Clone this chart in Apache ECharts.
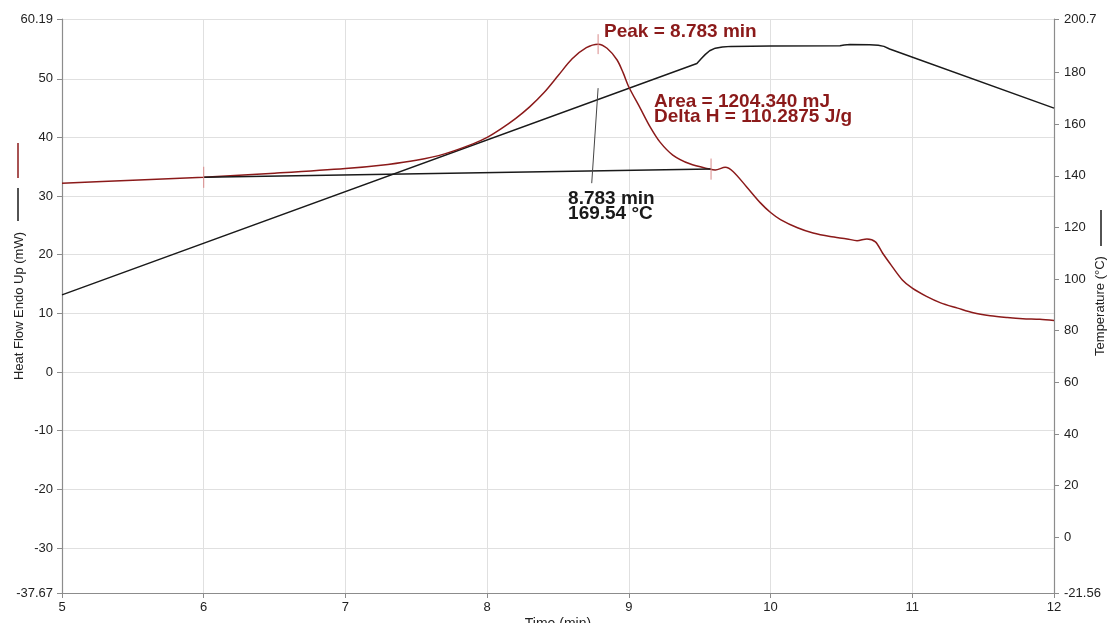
<!DOCTYPE html>
<html>
<head>
<meta charset="utf-8">
<script src="https://cdn.jsdelivr.net/npm/echarts@6/dist/echarts.min.js"></script>
<style>
  html, body { margin: 0; padding: 0; background: #fff; }
  #chart { width: 1113px; height: 623px; }
</style>
</head>
<body>
<div id="chart"></div>
<script>
// DSC run: heat flow (mW, endo up) and sample temperature (°C) against time (min)
const heatFlow = [
  [5.0, 32.2], [5.5, 32.7], [6.0, 33.2], [6.5, 33.9], [7.0, 34.7], [7.3, 35.4],
  [7.5, 36.1], [7.7, 37.2], [7.9, 38.9], [8.0, 40.0], [8.1, 41.5], [8.2, 43.2],
  [8.3, 45.2], [8.4, 47.6], [8.5, 50.5], [8.6, 53.4], [8.7, 55.3], [8.783, 55.9],
  [8.846, 55.2], [8.917, 53.2], [8.96, 51.0], [9.0, 48.6], [9.08, 45.0], [9.15, 41.8],
  [9.22, 39.2], [9.31, 37.0], [9.43, 35.5], [9.57, 34.6], [9.61, 34.45], [9.68, 34.9],
  [9.735, 34.2], [9.83, 31.6], [9.93, 28.8], [10.0, 27.2], [10.07, 26.0], [10.19, 24.6],
  [10.30, 23.7], [10.42, 23.1], [10.54, 22.7], [10.61, 22.4], [10.68, 22.7], [10.74, 22.2],
  [10.79, 20.3], [10.84, 18.6], [10.93, 15.7], [11.0, 14.3], [11.10, 12.9], [11.20, 11.8],
  [11.32, 10.9], [11.43, 10.1], [11.55, 9.6], [11.67, 9.3], [11.78, 9.1], [11.90, 9.0],
  [12.0, 8.8]
];

const temperature = [
  [5.0, 93.88], [9.48, 183.48], [9.51, 185.3], [9.54, 187.0], [9.57, 188.4], [9.61, 189.4],
  [9.66, 189.9], [9.72, 190.1], [10.0, 190.2], [10.49, 190.3], [10.52, 190.6], [10.56, 190.8],
  [10.7, 190.7], [10.76, 190.5], [10.8, 190.1], [10.84, 189.1], [12.0, 166.2]
];

// integration limits of the peak
const baseline = [[6.0, 33.2], [9.58, 34.6]];

const peakTime = 8.783;      // min
const peakHeat = 55.9;       // mW
const peakTemp = 169.54;     // °C
const areaMJ = '1204.340';
const deltaH = '110.2875';

const heatTicks = [-37.67, -30, -20, -10, 0, 10, 20, 30, 40, 50, 60.19];
const tempTicks = [-21.56, 0, 20, 40, 60, 80, 100, 120, 140, 160, 180, 200.7];

const RED = '#8b1a1a';
const INK = '#1a1a1a';
const TICK_RED = '#d98a8a';
const FONT = '"Liberation Sans", Arial, Helvetica, sans-serif';

const chart = echarts.init(document.getElementById('chart'));

function segment(points, color, width, z) {
  return {
    type: 'line', yAxisIndex: 0, data: points, showSymbol: false, silent: true,
    lineStyle: { color: color, width: width }, z: z
  };
}

function textMark(point, text, color) {
  return {
    type: 'scatter', yAxisIndex: 0, symbolSize: 0, silent: true, z: 10,
    itemStyle: { opacity: 1 },
    data: [point],
    label: {
      show: true, position: [0, 0], align: 'left', verticalAlign: 'middle',
      formatter: text, color: color, opacity: 1, fontFamily: FONT, fontWeight: 'bold',
      fontSize: 19, lineHeight: 15
    }
  };
}

const axisLabelStyle = { color: '#222', fontSize: 13, fontFamily: FONT };

chart.setOption({
  animation: false,
  backgroundColor: '#fff',
  grid: { left: 62, right: 59, top: 19, bottom: 30, containLabel: false, outerBoundsMode: 'none' },
  xAxis: {
    type: 'value', min: 5, max: 12, interval: 1,
    name: 'Time (min)', nameLocation: 'middle', nameGap: 24, nameMoveOverlap: false,
    nameTextStyle: { color: '#222', fontSize: 14, fontFamily: FONT },
    axisLine: { onZero: false, lineStyle: { color: '#8c8c8c', width: 1.2 } },
    axisTick: { show: true, length: 5, lineStyle: { color: '#8c8c8c' } },
    axisLabel: Object.assign({ margin: 8 }, axisLabelStyle),
    splitLine: { show: true, lineStyle: { color: '#e0e0e0', width: 1 } }
  },
  yAxis: [
    {
      type: 'value', position: 'left', min: -37.67, max: 60.19,
      name: 'Heat Flow Endo Up (mW)', nameLocation: 'middle', nameRotate: 90, nameGap: 36,
      nameMoveOverlap: false,
      nameTextStyle: { color: '#222', fontSize: 13, fontFamily: FONT },
      axisLine: { show: true, onZero: false, lineStyle: { color: '#8c8c8c', width: 1.2 } },
      axisTick: { show: true, length: 5, customValues: heatTicks, lineStyle: { color: '#8c8c8c' } },
      axisLabel: Object.assign({ margin: 9, customValues: heatTicks,
        formatter: v => String(v) }, axisLabelStyle),
      splitLine: { show: true, lineStyle: { color: '#e0e0e0', width: 1 } }
    },
    {
      type: 'value', position: 'right', min: -21.56, max: 200.7,
      name: 'Temperature (°C)', nameLocation: 'middle', nameRotate: 90, nameGap: 40,
      nameMoveOverlap: false,
      nameTextStyle: { color: '#222', fontSize: 13, fontFamily: FONT },
      axisLine: { show: true, onZero: false, lineStyle: { color: '#8c8c8c', width: 1.2 } },
      axisTick: { show: true, length: 5, customValues: tempTicks, lineStyle: { color: '#8c8c8c' } },
      axisLabel: Object.assign({ margin: 10, customValues: tempTicks,
        formatter: v => String(v) }, axisLabelStyle),
      splitLine: { show: false }
    }
  ],
  graphic: [
    { type: 'line', shape: { x1: 18, y1: 143, x2: 18, y2: 178 }, style: { stroke: RED, lineWidth: 1.5 } },
    { type: 'line', shape: { x1: 18, y1: 188, x2: 18, y2: 221 }, style: { stroke: INK, lineWidth: 1.5 } },
    { type: 'line', shape: { x1: 1101, y1: 210, x2: 1101, y2: 246 }, style: { stroke: INK, lineWidth: 1.5 } }
  ],
  series: [
    {
      name: 'Temperature', type: 'line', yAxisIndex: 1, data: temperature,
      showSymbol: false, smooth: false, silent: true,
      lineStyle: { color: INK, width: 1.5 }, z: 3
    },
    {
      name: 'Heat Flow', type: 'line', yAxisIndex: 0, data: heatFlow,
      showSymbol: false, smooth: 0.3, silent: true,
      lineStyle: { color: RED, width: 1.5 }, z: 4
    },
    segment(baseline, INK, 1.5, 5),
    // leader from the peak label up to the temperature trace
    segment([[peakTime - 0.045, 32.2], [peakTime, 48.4]], '#444', 1, 5),
    // limit and peak markers
    segment([[baseline[0][0], baseline[0][1] - 1.8], [baseline[0][0], baseline[0][1] + 1.8]], TICK_RED, 1, 6),
    segment([[baseline[1][0], baseline[1][1] - 1.8], [baseline[1][0], baseline[1][1] + 1.8]], TICK_RED, 1, 6),
    segment([[peakTime, peakHeat - 1.7], [peakTime, peakHeat + 1.7]], TICK_RED, 1, 6),
    textMark([peakTime + 0.042, 58.0], 'Peak = ' + peakTime.toFixed(3) + ' min', RED),
    textMark([9.178, 44.76], 'Area = ' + areaMJ + ' mJ\nDelta H = ' + deltaH + ' J/g', RED),
    textMark([peakTime - 0.212, 28.3], peakTime.toFixed(3) + ' min\n' + peakTemp.toFixed(2) + ' °C', INK)
  ]
});
</script>
</body>
</html>
